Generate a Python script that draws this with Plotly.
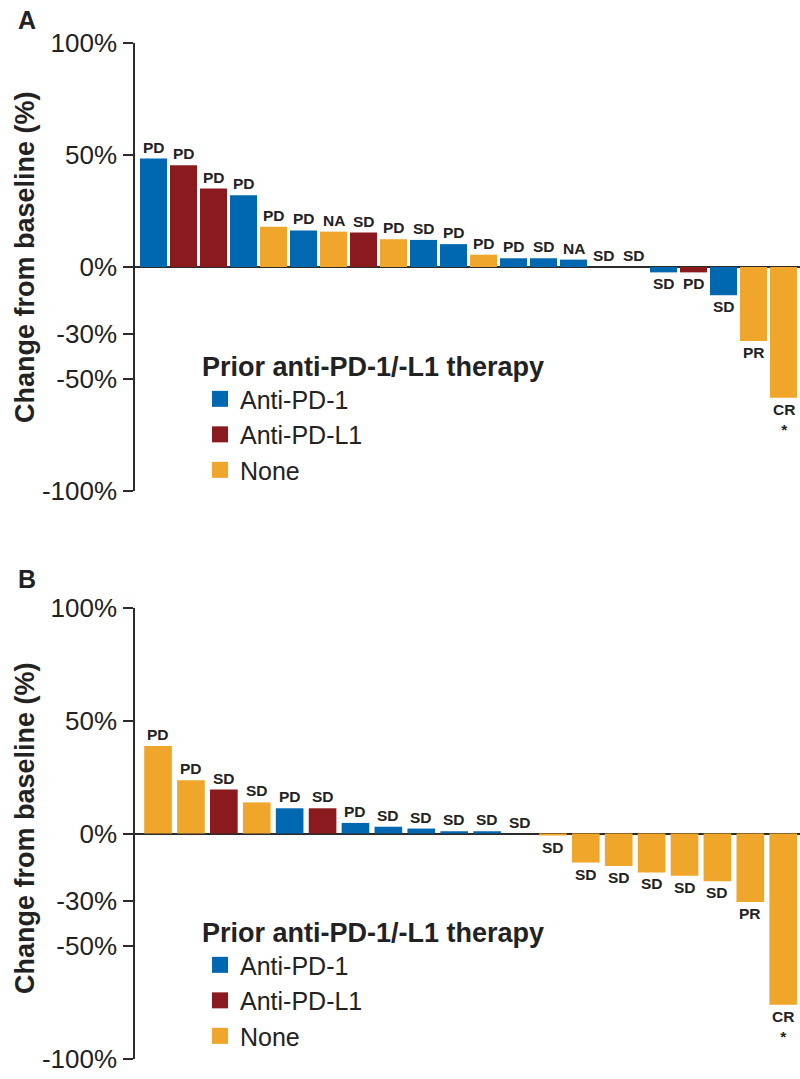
import plotly.graph_objects as go

# ---------------- data ----------------
A_values = [48.4, 45.4, 35.0, 32.0, 18.0, 16.3, 15.8, 15.4, 12.4, 12.1, 10.2, 5.5,
            3.9, 3.9, 3.3, 0.0, 0.0, -2.4, -2.4, -12.6, -33.0, -58.4]
A_groups = ["Anti-PD-1", "Anti-PD-L1", "Anti-PD-L1", "Anti-PD-1", "None", "Anti-PD-1",
            "None", "Anti-PD-L1", "None", "Anti-PD-1", "Anti-PD-1", "None", "Anti-PD-1",
            "Anti-PD-1", "Anti-PD-1", "Anti-PD-1", "Anti-PD-1", "Anti-PD-1", "Anti-PD-L1",
            "Anti-PD-1", "None", "None"]
A_labels = ["PD", "PD", "PD", "PD", "PD", "PD", "NA", "SD", "PD", "SD", "PD", "PD",
            "PD", "SD", "NA", "SD", "SD", "SD", "PD", "SD", "PR", "CR<br>*"]

B_values = [38.8, 23.7, 19.5, 13.8, 11.2, 11.2, 4.7, 3.0, 2.2, 1.0, 1.0, 0.0,
            -0.9, -12.9, -14.4, -17.3, -18.8, -21.2, -30.4, -76.0]
B_groups = ["None", "None", "Anti-PD-L1", "None", "Anti-PD-1", "Anti-PD-L1", "Anti-PD-1",
            "Anti-PD-1", "Anti-PD-1", "Anti-PD-1", "Anti-PD-1", "None", "None", "None",
            "None", "None", "None", "None", "None", "None"]
B_labels = ["PD", "PD", "SD", "SD", "PD", "SD", "PD", "SD", "SD", "SD", "SD", "SD",
            "SD", "SD", "SD", "SD", "SD", "SD", "PR", "CR<br>*"]

group_names = ["Anti-PD-1", "Anti-PD-L1", "None"]
tick_vals = [-100, -50, -30, 0, 50, 100]
tick_text = ["-100%", "-50%", "-30%", "0%", "50%", "100%"]
panel_letters = ["A", "B"]
y_title = "Change from baseline (%)"
legend_title = "Prior anti-PD-1/-L1 therapy"

# ---------------- styles ----------------
COLORS = {"Anti-PD-1": "#0067B1", "Anti-PD-L1": "#8B1A1F", "None": "#F0A52B"}
FONT = "Liberation Sans, Arial, Helvetica, sans-serif"
AXC = "#2b2b2b"
TXT = "#222222"
W, H = 800, 1079

def py(p):  # pixel-from-top -> paper
    return 1 - p / H

fig = go.Figure()

panels = [
    dict(vals=A_values, grps=A_groups, labs=A_labels, xa="x", ya="y", width=0.9,
         legend="legend"),
    dict(vals=B_values, grps=B_groups, labs=B_labels, xa="x2", ya="y2", width=0.84,
         legend="legend2"),
]

for p in panels:
    xs = list(range(len(p["vals"])))
    fig.add_trace(go.Bar(
        x=xs, y=p["vals"], width=p["width"],
        marker=dict(color=[COLORS[g] for g in p["grps"]], line=dict(width=0)),
        xaxis=p["xa"], yaxis=p["ya"], showlegend=False, hoverinfo="y",
    ))
    for g in group_names:
        fig.add_trace(go.Scatter(
            x=[None], y=[None], mode="markers", name=g,
            marker=dict(symbol="square", size=20, color=COLORS[g]),
            xaxis=p["xa"], yaxis=p["ya"], legend=p["legend"],
        ))
    for i, (v, lab) in enumerate(zip(p["vals"], p["labs"])):
        fig.add_annotation(
            x=i, y=v, xref=p["xa"], yref=p["ya"], text=f"<b>{lab}</b>",
            showarrow=False, yanchor="bottom" if v >= 0 else "top",
            yshift=1 if v >= 0 else -1,
            font=dict(family=FONT, size=15.5, color=TXT),
        )

yaxis_common = dict(
    range=[-100, 100], tickvals=tick_vals, ticktext=tick_text,
    ticks="outside", ticklen=10, tickwidth=1.5, tickcolor=AXC,
    showline=True, linecolor=AXC, linewidth=1.5,
    zeroline=True, zerolinecolor=AXC, zerolinewidth=2,
    showgrid=False, tickfont=dict(family=FONT, size=26, color=TXT),
    ticklabelstandoff=1, fixedrange=True, automargin=False,
)
xaxis_common = dict(showticklabels=False, ticks="", showline=False, showgrid=False,
                    zeroline=False, fixedrange=True, automargin=False)

legend_common = dict(
    xanchor="left", yanchor="top",
    title=dict(text=f"<b>{legend_title}</b>", font=dict(family=FONT, size=27, color=TXT)),
    font=dict(family=FONT, size=25, color=TXT), bgcolor="rgba(0,0,0,0)",
    itemclick=False, itemdoubleclick=False,
)

fig.update_layout(
    width=W, height=H,
    margin=dict(l=0, r=0, t=0, b=0, pad=0, autoexpand=False),
    paper_bgcolor="white", plot_bgcolor="white",
    font=dict(family=FONT, color=TXT),
    xaxis=dict(domain=[135 / W, 1.0], range=[-0.617, 21.55], anchor="y", **xaxis_common),
    yaxis=dict(domain=[py(491), py(43)], anchor="x", **yaxis_common),
    xaxis2=dict(domain=[135 / W, 1.0], range=[-0.70, 19.51], anchor="y2", **xaxis_common),
    yaxis2=dict(domain=[py(1058.7), py(608.3)], anchor="x2", **yaxis_common),
    legend=dict(x=200 / W, y=py(341), **legend_common),
    legend2=dict(x=200 / W, y=py(907), **legend_common),
)

# panel letters and y titles
for letter, ly, ty in zip(panel_letters, [20, 579], [257, 828]):
    fig.add_annotation(x=16 / W, y=py(ly), xref="paper", yref="paper",
                       text=f"<b>{letter}</b>", showarrow=False,
                       xanchor="left", yanchor="middle",
                       font=dict(family=FONT, size=25, color=TXT))
    fig.add_annotation(x=25 / W, y=py(ty), xref="paper", yref="paper",
                       text=f"<b>{y_title}</b>", showarrow=False, textangle=-90,
                       xanchor="center", yanchor="middle",
                       font=dict(family=FONT, size=27, color=TXT))

fig.write_html("out.html",
               config={"displayModeBar": False},
               post_script="document.body.style.margin='0';document.body.style.overflow='hidden';")
